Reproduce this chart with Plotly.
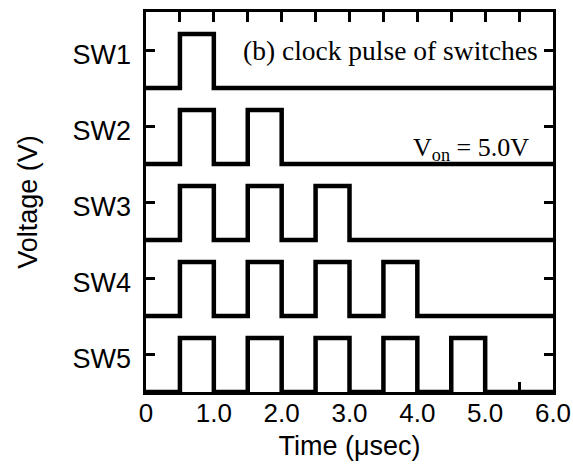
import plotly.graph_objects as go

# ---- data ----
switch_names = ["SW1", "SW2", "SW3", "SW4", "SW5"]
pulse_counts = [1, 2, 3, 4, 5]            # number of pulses per switch
pulse_start = [0.5, 1.5, 2.5, 3.5, 4.5]   # µs, rising edges
pulse_end = [1.0, 2.0, 3.0, 4.0, 5.0]     # µs, falling edges
v_on = 5.0                                # V, on level
v_off = 0.0
t_min, t_max = 0.0, 6.0
x_label_vals = [0, 1, 2, 3, 4, 5, 6]
x_label_text = ["0", "1.0", "2.0", "3.0", "4.0", "5.0", "6.0"]
x_tick_step = 0.5

# ---- layout helpers (lane stacking) ----
n_lanes = len(switch_names)
lane_height = 1.0
pulse_frac = 0.71      # fraction of a lane the on-level occupies
tick_frac = 0.49
label_frac = 0.44

serif = "Liberation Serif, Times New Roman, serif"

fig = go.Figure()
for i, (name, cnt) in enumerate(zip(switch_names, pulse_counts)):
    base = (n_lanes - 1 - i) * lane_height
    xs = [t_min]
    vs = [v_off]
    for k in range(cnt):
        xs += [pulse_start[k], pulse_end[k]]
        vs += [v_on, v_off]
    xs.append(t_max)
    vs.append(v_off)
    ys = [base + v / v_on * pulse_frac * lane_height for v in vs]
    fig.add_trace(go.Scatter(x=xs, y=ys, mode="lines", line_shape="hv",
                             line=dict(color="black", width=4.5),
                             showlegend=False, hoverinfo="skip", name=name))

lane_label_pos = [(n_lanes - 1 - i + label_frac) * lane_height for i in range(n_lanes)]
lane_tick_pos = [(n_lanes - 1 - i + tick_frac) * lane_height for i in range(n_lanes)]

# ticks drawn as mirrored ticks of the primary axes; labels on overlay axes
fig.add_trace(go.Scatter(x=[None], y=[None], xaxis="x2", yaxis="y2",
                         showlegend=False, hoverinfo="skip"))

fig.update_layout(
    width=573, height=470,
    margin=dict(l=146, r=20, t=12, b=78, autoexpand=False),
    paper_bgcolor="white", plot_bgcolor="white",
    font=dict(family="Liberation Sans, Arial, sans-serif", size=26, color="black"),
    xaxis=dict(range=[t_min, t_max], tickmode="linear", tick0=t_min, dtick=x_tick_step,
               showticklabels=False,
               ticks="inside", ticklen=10, tickwidth=2.5, tickcolor="black",
               showline=True, linecolor="black", linewidth=3, mirror="ticks",
               showgrid=False, zeroline=False, automargin=False),
    yaxis=dict(range=[0, n_lanes * lane_height],
               tickvals=lane_tick_pos, showticklabels=False,
               ticks="inside", ticklen=9, tickwidth=2.5, tickcolor="black",
               showline=True, linecolor="black", linewidth=3, mirror="ticks",
               showgrid=False, zeroline=False, automargin=False),
    xaxis2=dict(range=[t_min, t_max], overlaying="x", side="bottom",
                tickvals=x_label_vals, ticktext=x_label_text, ticks="",
                ticklabelstandoff=3, tickfont=dict(size=26),
                showline=False, showgrid=False, zeroline=False, automargin=False,
                title=dict(text="Time (μsec)", font=dict(size=27), standoff=9)),
    yaxis2=dict(range=[0, n_lanes * lane_height], overlaying="y", side="left",
                tickvals=lane_label_pos, ticktext=switch_names, ticks="",
                ticklabelstandoff=14, tickfont=dict(size=27),
                showline=False, showgrid=False, zeroline=False, automargin=False,
                title=dict(text="Voltage (V)", font=dict(size=27), standoff=27)),
    annotations=[
        dict(x=5.81, y=4.5, xref="x", yref="y", xanchor="right", showarrow=False,
             text="(b) clock pulse of switches",
             font=dict(family=serif, size=27.5)),
        dict(x=5.68, y=3.2, xref="x", yref="y", xanchor="right", showarrow=False,
             text="V<sub>on</sub> = 5.0V",
             font=dict(family=serif, size=26)),
    ],
)

fig.write_html("out.html")
